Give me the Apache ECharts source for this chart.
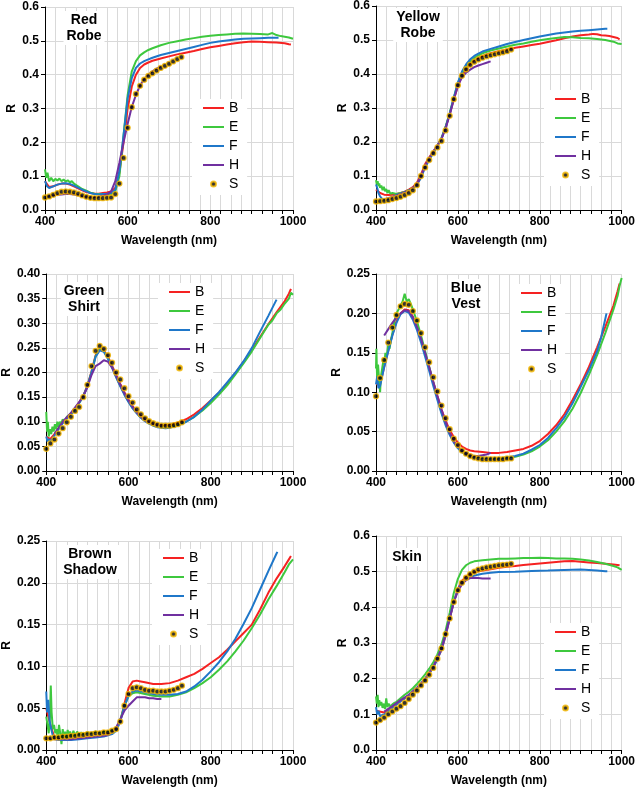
<!DOCTYPE html>
<html>
<head>
<meta charset="utf-8">
<script src="https://cdn.jsdelivr.net/npm/echarts@6/dist/echarts.min.js"></script>
<style>html,body{margin:0;padding:0;background:#fff;}#c{width:638px;height:788px;}</style>
</head>
<body>
<div id="c"></div>
<script>
// ---------- DATA ----------
const seriesNames = ['B', 'E', 'F', 'H', 'S'];
const xTickLabels = [400, 600, 800, 1000];

// Red Robe
const redRobeB = [[400,0.085],[410,0.068],[420,0.07],[430,0.075],[440,0.078],[450,0.078],[460,0.075],[470,0.07],[480,0.064],[490,0.058],[500,0.053],[510,0.05],[520,0.048],[530,0.048],[540,0.05],[550,0.052],[560,0.055],[570,0.065],[580,0.11],[590,0.2],[600,0.3],[610,0.365],[620,0.4],[630,0.42],[640,0.43],[650,0.436],[660,0.441],[680,0.448],[700,0.454],[720,0.46],[740,0.465],[760,0.47],[780,0.476],[800,0.481],[820,0.485],[840,0.489],[860,0.493],[880,0.496],[900,0.498],[920,0.497],[940,0.496],[960,0.495],[980,0.493],[990,0.49],[995,0.489]];
const redRobeE = [[400,0.12],[403,0.095],[406,0.11],[410,0.085],[415,0.095],[420,0.085],[425,0.092],[430,0.087],[435,0.093],[440,0.085],[445,0.09],[450,0.084],[455,0.088],[460,0.082],[465,0.085],[470,0.078],[480,0.07],[490,0.062],[500,0.057],[510,0.051],[520,0.048],[530,0.047],[540,0.047],[550,0.046],[560,0.047],[570,0.055],[580,0.1],[590,0.22],[600,0.34],[610,0.41],[620,0.44],[630,0.457],[640,0.466],[650,0.473],[660,0.478],[680,0.487],[700,0.494],[720,0.499],[740,0.504],[760,0.508],[780,0.512],[800,0.515],[820,0.517],[840,0.519],[860,0.521],[880,0.522],[900,0.521],[920,0.52],[940,0.519],[950,0.523],[960,0.517],[970,0.514],[980,0.512],[990,0.51],[1000,0.506]];
const redRobeF = [[400,0.085],[405,0.07],[410,0.065],[420,0.07],[430,0.075],[440,0.078],[450,0.079],[460,0.077],[470,0.072],[480,0.066],[490,0.06],[500,0.055],[510,0.05],[520,0.047],[530,0.046],[540,0.047],[550,0.048],[560,0.05],[570,0.06],[580,0.115],[590,0.22],[600,0.33],[610,0.39],[620,0.42],[630,0.433],[640,0.44],[650,0.445],[660,0.45],[680,0.458],[700,0.464],[720,0.47],[740,0.476],[760,0.482],[780,0.488],[800,0.494],[820,0.498],[840,0.501],[860,0.504],[880,0.506],[900,0.507],[920,0.508],[940,0.509],[960,0.509],[965,0.509]];
const redRobeH = [[400,0.04],[410,0.041],[420,0.043],[430,0.045],[440,0.046],[450,0.047],[460,0.047],[470,0.046],[480,0.044],[490,0.041],[500,0.039],[510,0.038],[520,0.038],[530,0.039],[540,0.042],[550,0.046],[560,0.055],[570,0.085],[580,0.14],[590,0.2],[600,0.255],[610,0.305],[620,0.34],[630,0.368],[640,0.387],[650,0.4],[660,0.41],[670,0.418],[680,0.424]];
const redRobeS = [[400,0.037],[410,0.04],[420,0.045],[430,0.05],[440,0.054],[450,0.055],[460,0.054],[470,0.052],[480,0.048],[490,0.043],[500,0.039],[510,0.036],[520,0.035],[530,0.035],[540,0.035],[550,0.036],[560,0.037],[570,0.047],[580,0.078],[590,0.154],[600,0.243],[610,0.304],[620,0.343],[630,0.367],[640,0.385],[650,0.396],[660,0.404],[670,0.412],[680,0.42],[690,0.426],[700,0.432],[710,0.439],[720,0.446],[730,0.452]];

// Yellow Robe
const yellowRobeB = [[400,0.06],[410,0.05],[420,0.045],[430,0.044],[440,0.045],[450,0.047],[460,0.05],[470,0.054],[480,0.06],[490,0.067],[500,0.08],[510,0.105],[520,0.135],[530,0.155],[540,0.172],[550,0.19],[560,0.21],[570,0.243],[580,0.282],[590,0.325],[600,0.365],[610,0.395],[620,0.415],[630,0.43],[640,0.44],[650,0.447],[660,0.453],[680,0.461],[700,0.467],[720,0.472],[740,0.477],[760,0.481],[780,0.485],[800,0.489],[820,0.494],[840,0.499],[860,0.505],[880,0.51],[900,0.514],[920,0.516],[930,0.518],[940,0.517],[950,0.514],[960,0.513],[970,0.512],[980,0.509],[990,0.506],[995,0.502]];
const yellowRobeE = [[400,0.088],[402,0.075],[404,0.085],[406,0.07],[408,0.078],[410,0.065],[413,0.072],[416,0.058],[419,0.068],[422,0.055],[425,0.062],[428,0.05],[431,0.058],[435,0.048],[440,0.05],[450,0.047],[460,0.05],[470,0.053],[480,0.058],[490,0.064],[500,0.076],[510,0.098],[520,0.128],[530,0.15],[540,0.17],[550,0.19],[560,0.212],[570,0.245],[580,0.285],[590,0.33],[600,0.373],[610,0.403],[620,0.423],[630,0.437],[640,0.447],[650,0.455],[660,0.461],[680,0.469],[700,0.475],[720,0.481],[740,0.486],[760,0.49],[780,0.495],[800,0.499],[820,0.503],[840,0.506],[860,0.509],[880,0.508],[900,0.506],[920,0.505],[940,0.503],[960,0.5],[980,0.495],[990,0.49],[1000,0.488]];
const yellowRobeF = [[400,0.075],[403,0.065],[406,0.05],[410,0.04],[415,0.033],[420,0.03],[430,0.032],[440,0.038],[450,0.044],[460,0.048],[470,0.052],[480,0.057],[490,0.063],[500,0.075],[510,0.095],[520,0.125],[530,0.148],[540,0.168],[550,0.188],[560,0.21],[570,0.243],[580,0.283],[590,0.33],[600,0.375],[610,0.407],[620,0.428],[630,0.443],[640,0.453],[650,0.46],[660,0.466],[680,0.474],[700,0.481],[720,0.488],[740,0.494],[760,0.5],[780,0.505],[800,0.51],[820,0.515],[840,0.519],[860,0.522],[880,0.525],[900,0.527],[920,0.529],[940,0.531],[960,0.533],[965,0.533]];
const yellowRobeH = [[420,0.032],[440,0.038],[460,0.047],[480,0.056],[500,0.075],[510,0.1],[520,0.13],[530,0.152],[540,0.172],[550,0.19],[560,0.21],[570,0.24],[580,0.28],[590,0.325],[600,0.365],[610,0.39],[620,0.404],[630,0.413],[640,0.42],[650,0.425],[660,0.429],[670,0.433],[680,0.437]];
const yellowRobeS = [[400,0.025],[410,0.026],[420,0.027],[430,0.029],[440,0.032],[450,0.035],[460,0.039],[470,0.044],[480,0.05],[490,0.058],[500,0.073],[510,0.1],[520,0.125],[530,0.147],[540,0.167],[550,0.184],[560,0.203],[570,0.234],[580,0.277],[590,0.326],[600,0.367],[610,0.395],[620,0.414],[630,0.427],[640,0.436],[650,0.443],[660,0.448],[670,0.452],[680,0.455],[690,0.458],[700,0.461],[710,0.464],[720,0.467],[730,0.472]];

// Green Shirt
const greenShirtB = [[400,0.07],[410,0.065],[420,0.075],[430,0.087],[440,0.098],[450,0.108],[460,0.117],[470,0.127],[480,0.139],[490,0.153],[500,0.173],[510,0.202],[520,0.235],[530,0.248],[540,0.245],[550,0.232],[560,0.214],[570,0.195],[580,0.177],[590,0.16],[600,0.145],[610,0.132],[620,0.121],[630,0.112],[640,0.105],[650,0.1],[660,0.096],[670,0.094],[680,0.093],[690,0.093],[700,0.094],[720,0.098],[740,0.105],[760,0.115],[780,0.128],[800,0.143],[820,0.159],[840,0.178],[860,0.199],[880,0.222],[900,0.246],[920,0.272],[940,0.298],[960,0.322],[980,0.345],[990,0.36],[995,0.37]];
const greenShirtE = [[400,0.12],[402,0.08],[404,0.1],[406,0.07],[409,0.085],[412,0.075],[415,0.09],[418,0.08],[421,0.095],[424,0.085],[427,0.1],[430,0.09],[433,0.1],[436,0.095],[440,0.105],[445,0.1],[450,0.11],[455,0.113],[460,0.117],[465,0.12],[470,0.125],[480,0.138],[490,0.152],[500,0.172],[510,0.2],[520,0.233],[530,0.247],[540,0.243],[550,0.229],[560,0.211],[570,0.191],[580,0.173],[590,0.156],[600,0.141],[610,0.128],[620,0.118],[630,0.109],[640,0.102],[650,0.097],[660,0.093],[670,0.09],[680,0.089],[690,0.088],[700,0.089],[720,0.093],[740,0.1],[760,0.11],[780,0.123],[800,0.138],[820,0.155],[840,0.174],[860,0.196],[880,0.219],[900,0.243],[920,0.27],[940,0.297],[950,0.306],[960,0.32],[970,0.328],[980,0.34],[990,0.35],[995,0.362],[1000,0.358]];
const greenShirtF = [[400,0.07],[403,0.06],[406,0.065],[410,0.06],[420,0.072],[430,0.085],[440,0.097],[450,0.107],[460,0.115],[470,0.125],[480,0.138],[490,0.152],[500,0.172],[510,0.2],[520,0.232],[530,0.245],[540,0.242],[550,0.228],[560,0.21],[570,0.19],[580,0.172],[590,0.155],[600,0.14],[610,0.127],[620,0.117],[630,0.108],[640,0.101],[650,0.096],[660,0.092],[670,0.089],[680,0.088],[690,0.087],[700,0.088],[720,0.092],[740,0.1],[760,0.11],[780,0.125],[800,0.143],[820,0.16],[840,0.18],[860,0.2],[880,0.223],[900,0.25],[920,0.283],[940,0.315],[960,0.348]];
const greenShirtH = [[420,0.075],[440,0.1],[460,0.118],[480,0.14],[490,0.152],[500,0.17],[510,0.195],[520,0.213],[530,0.218],[540,0.225],[550,0.222],[560,0.21],[570,0.193],[580,0.175],[590,0.158],[600,0.143],[610,0.13],[620,0.119],[630,0.11],[640,0.103],[650,0.098],[660,0.095],[670,0.093],[680,0.092]];
const greenShirtS = [[400,0.045],[410,0.056],[420,0.064],[430,0.076],[440,0.087],[450,0.099],[460,0.11],[470,0.122],[480,0.13],[490,0.15],[500,0.175],[510,0.213],[520,0.244],[530,0.254],[540,0.248],[550,0.235],[560,0.22],[570,0.2],[580,0.186],[590,0.168],[600,0.152],[610,0.139],[620,0.125],[630,0.115],[640,0.107],[650,0.101],[660,0.097],[670,0.094],[680,0.092],[690,0.092],[700,0.092],[710,0.093],[720,0.095],[730,0.099]];

// Blue Vest
const blueVestB = [[400,0.11],[410,0.11],[420,0.132],[430,0.153],[440,0.173],[450,0.19],[460,0.2],[470,0.205],[480,0.204],[490,0.196],[500,0.183],[510,0.167],[520,0.149],[530,0.131],[540,0.113],[550,0.095],[560,0.078],[570,0.064],[580,0.052],[590,0.043],[600,0.036],[610,0.031],[620,0.028],[630,0.026],[640,0.025],[660,0.024],[680,0.023],[700,0.023],[720,0.024],[740,0.026],[760,0.028],[780,0.032],[800,0.038],[820,0.047],[840,0.058],[860,0.072],[880,0.09],[900,0.11],[920,0.132],[940,0.157],[960,0.183],[980,0.21],[990,0.228],[995,0.238]];
const blueVestE = [[400,0.13],[401,0.155],[403,0.11],[405,0.135],[407,0.12],[410,0.1],[412,0.12],[415,0.13],[418,0.14],[420,0.135],[423,0.15],[426,0.145],[430,0.16],[433,0.155],[436,0.165],[440,0.175],[445,0.19],[450,0.2],[455,0.205],[460,0.21],[465,0.215],[470,0.225],[475,0.215],[480,0.218],[485,0.212],[490,0.205],[500,0.19],[510,0.172],[520,0.152],[530,0.132],[540,0.112],[550,0.093],[560,0.075],[570,0.06],[580,0.047],[590,0.037],[600,0.029],[610,0.024],[620,0.021],[640,0.018],[660,0.017],[680,0.016],[700,0.016],[720,0.017],[740,0.018],[760,0.021],[780,0.025],[800,0.031],[820,0.039],[840,0.05],[860,0.063],[880,0.079],[900,0.099],[920,0.122],[940,0.147],[960,0.175],[980,0.205],[990,0.222],[995,0.235],[1000,0.245]];
const blueVestF = [[400,0.11],[403,0.12],[406,0.105],[410,0.108],[415,0.12],[420,0.132],[430,0.152],[440,0.172],[450,0.188],[460,0.199],[470,0.203],[480,0.201],[490,0.192],[500,0.179],[510,0.163],[520,0.145],[530,0.127],[540,0.108],[550,0.09],[560,0.073],[570,0.058],[580,0.046],[590,0.036],[600,0.029],[610,0.024],[620,0.021],[630,0.019],[640,0.018],[660,0.017],[680,0.016],[700,0.016],[720,0.017],[740,0.019],[760,0.022],[780,0.027],[800,0.033],[820,0.042],[840,0.054],[860,0.068],[880,0.086],[900,0.107],[920,0.128],[940,0.152],[950,0.17],[960,0.193],[963,0.2]];
const blueVestH = [[420,0.172],[430,0.18],[440,0.188],[450,0.195],[460,0.2],[470,0.204],[480,0.203],[490,0.195],[500,0.183],[510,0.168],[520,0.15],[530,0.132],[540,0.113],[550,0.095],[560,0.078],[570,0.062],[580,0.049],[590,0.038],[600,0.031],[610,0.026],[620,0.022],[630,0.02],[640,0.019],[650,0.019],[660,0.02],[670,0.021],[680,0.023]];
const blueVestS = [[400,0.095],[410,0.118],[420,0.141],[430,0.163],[440,0.182],[450,0.198],[460,0.209],[470,0.212],[480,0.211],[490,0.203],[500,0.191],[510,0.175],[520,0.157],[530,0.138],[540,0.119],[550,0.101],[560,0.083],[570,0.067],[580,0.053],[590,0.041],[600,0.033],[610,0.026],[620,0.022],[630,0.019],[640,0.017],[650,0.016],[660,0.015],[670,0.015],[680,0.015],[690,0.015],[700,0.015],[710,0.015],[720,0.016],[730,0.016]];

// Brown Shadow
const brownShadowB = [[400,0.05],[410,0.03],[420,0.015],[440,0.013],[460,0.013],[480,0.014],[500,0.015],[520,0.016],[540,0.018],[560,0.022],[570,0.025],[580,0.034],[590,0.055],[600,0.074],[610,0.082],[620,0.083],[630,0.082],[640,0.081],[660,0.079],[680,0.079],[700,0.08],[720,0.083],[740,0.087],[760,0.091],[780,0.097],[800,0.104],[820,0.111],[840,0.12],[860,0.13],[880,0.14],[900,0.15],[920,0.168],[940,0.188],[960,0.205],[980,0.22],[990,0.228],[995,0.232]];
const brownShadowE = [[400,0.04],[403,0.03],[406,0.02],[409,0.04],[411,0.077],[413,0.045],[416,0.025],[419,0.03],[422,0.02],[425,0.025],[428,0.015],[431,0.03],[434,0.02],[437,0.007],[440,0.025],[443,0.015],[446,0.022],[449,0.012],[452,0.024],[455,0.018],[458,0.022],[462,0.015],[466,0.023],[470,0.017],[475,0.022],[480,0.018],[485,0.021],[490,0.019],[500,0.021],[510,0.02],[520,0.022],[530,0.021],[540,0.022],[550,0.022],[560,0.023],[570,0.026],[580,0.036],[590,0.053],[600,0.064],[610,0.068],[620,0.069],[640,0.067],[660,0.065],[680,0.064],[700,0.064],[720,0.066],[740,0.069],[760,0.074],[780,0.08],[800,0.087],[820,0.096],[840,0.106],[860,0.118],[880,0.131],[900,0.146],[920,0.162],[940,0.18],[960,0.196],[980,0.213],[990,0.222],[1000,0.228]];
const brownShadowF = [[400,0.07],[402,0.045],[405,0.06],[408,0.035],[412,0.025],[416,0.017],[420,0.013],[430,0.012],[440,0.012],[460,0.012],[480,0.013],[500,0.014],[520,0.015],[540,0.016],[560,0.019],[570,0.023],[580,0.034],[590,0.052],[600,0.065],[610,0.07],[620,0.071],[640,0.069],[660,0.067],[680,0.066],[700,0.066],[720,0.067],[740,0.07],[760,0.076],[780,0.084],[800,0.094],[820,0.105],[840,0.118],[860,0.133],[880,0.151],[900,0.17],[920,0.192],[940,0.214],[960,0.235],[962,0.237]];
const brownShadowH = [[400,0.014],[420,0.013],[440,0.013],[460,0.013],[480,0.014],[500,0.015],[520,0.016],[540,0.017],[550,0.018],[560,0.021],[570,0.027],[580,0.037],[590,0.047],[600,0.053],[610,0.058],[620,0.063],[630,0.063],[640,0.063],[650,0.062],[660,0.062],[670,0.061],[680,0.061]];
const brownShadowS = [[400,0.014],[410,0.014],[420,0.015],[430,0.015],[440,0.016],[450,0.016],[460,0.017],[470,0.017],[480,0.018],[490,0.018],[500,0.019],[510,0.019],[520,0.02],[530,0.02],[540,0.021],[550,0.021],[560,0.023],[570,0.025],[580,0.034],[590,0.053],[600,0.067],[610,0.074],[620,0.075],[630,0.074],[640,0.072],[650,0.071],[660,0.071],[670,0.07],[680,0.07],[690,0.07],[700,0.071],[710,0.072],[720,0.074],[730,0.077]];

// Skin
const skinB = [[400,0.11],[420,0.105],[440,0.12],[460,0.137],[480,0.152],[500,0.172],[520,0.198],[540,0.232],[560,0.28],[570,0.32],[580,0.367],[590,0.415],[600,0.452],[610,0.474],[620,0.487],[630,0.494],[640,0.498],[660,0.503],[680,0.507],[700,0.511],[720,0.514],[740,0.516],[760,0.519],[780,0.521],[800,0.523],[820,0.525],[840,0.527],[860,0.529],[880,0.53],[900,0.528],[920,0.526],[940,0.524],[960,0.522],[980,0.52],[995,0.518]];
const skinE = [[400,0.15],[402,0.13],[404,0.155],[406,0.12],[408,0.14],[410,0.125],[413,0.135],[416,0.118],[419,0.13],[422,0.115],[425,0.145],[428,0.12],[431,0.13],[435,0.122],[440,0.128],[445,0.132],[450,0.135],[460,0.145],[470,0.155],[480,0.163],[490,0.173],[500,0.185],[510,0.198],[520,0.212],[530,0.228],[540,0.246],[550,0.268],[560,0.296],[570,0.335],[580,0.385],[590,0.44],[600,0.48],[610,0.505],[620,0.518],[630,0.525],[640,0.529],[660,0.532],[680,0.534],[700,0.536],[720,0.536],[740,0.537],[760,0.538],[780,0.538],[800,0.539],[820,0.538],[840,0.537],[860,0.537],[880,0.536],[900,0.534],[920,0.531],[940,0.527],[960,0.522],[980,0.516],[990,0.512],[1000,0.505]];
const skinF = [[400,0.12],[403,0.1],[406,0.11],[410,0.095],[415,0.098],[420,0.1],[430,0.108],[440,0.118],[460,0.137],[480,0.153],[500,0.172],[520,0.197],[540,0.232],[550,0.255],[560,0.282],[570,0.322],[580,0.37],[590,0.415],[600,0.45],[610,0.468],[620,0.478],[630,0.485],[640,0.489],[660,0.494],[680,0.497],[700,0.499],[740,0.5],[780,0.502],[820,0.503],[860,0.505],[900,0.506],[920,0.505],[940,0.503],[960,0.501],[965,0.501]];
const skinH = [[420,0.108],[440,0.123],[460,0.14],[480,0.155],[500,0.175],[520,0.2],[540,0.235],[550,0.258],[560,0.285],[570,0.325],[580,0.37],[590,0.415],[600,0.445],[610,0.465],[620,0.476],[630,0.482],[640,0.483],[650,0.482],[660,0.481],[670,0.481],[680,0.481]];
const skinS = [[400,0.077],[410,0.084],[420,0.091],[430,0.1],[440,0.108],[450,0.116],[460,0.123],[470,0.132],[480,0.143],[490,0.155],[500,0.167],[510,0.181],[520,0.195],[530,0.211],[540,0.23],[550,0.256],[560,0.285],[570,0.325],[580,0.369],[590,0.415],[600,0.448],[610,0.469],[620,0.483],[630,0.493],[640,0.5],[650,0.506],[660,0.509],[670,0.512],[680,0.514],[690,0.516],[700,0.518],[710,0.519],[720,0.52],[730,0.522]];

// ---------- LAYOUT ----------
const panels = [
  { title: 'Red\nRobe', tx: 84, ty: 11, grid: {left: 45, top: 7, width: 248, height: 203}, ymax: 0.6, yint: 0.1, dec: 1, leg: [192, 99], data: [redRobeB, redRobeE, redRobeF, redRobeH, redRobeS] },
  { title: 'Yellow\nRobe', tx: 418, ty: 8, grid: {left: 376, top: 6, width: 248, height: 204}, ymax: 0.6, yint: 0.1, dec: 1, leg: [544, 90], data: [yellowRobeB, yellowRobeE, yellowRobeF, yellowRobeH, yellowRobeS] },
  { title: 'Green\nShirt', tx: 84, ty: 282, grid: {left: 46, top: 274, width: 247, height: 197}, ymax: 0.4, yint: 0.05, dec: 2, leg: [158, 283], data: [greenShirtB, greenShirtE, greenShirtF, greenShirtH, greenShirtS] },
  { title: 'Blue\nVest', tx: 466, ty: 279, grid: {left: 376, top: 274, width: 248, height: 197}, ymax: 0.25, yint: 0.05, dec: 2, leg: [510, 284], data: [blueVestB, blueVestE, blueVestF, blueVestH, blueVestS] },
  { title: 'Brown\nShadow', tx: 90, ty: 545, grid: {left: 46, top: 541, width: 247, height: 209}, ymax: 0.25, yint: 0.05, dec: 2, leg: [152, 549], data: [brownShadowB, brownShadowE, brownShadowF, brownShadowH, brownShadowS] },
  { title: 'Skin', tx: 407, ty: 548, grid: {left: 376, top: 536, width: 248, height: 214}, ymax: 0.6, yint: 0.1, dec: 1, leg: [544, 623], data: [skinB, skinE, skinF, skinH, skinS] }
];

const colors = ['#f52222', '#3ec83e', '#1f77c9', '#7030a0', '#000000'];
const FONT = 'Arial, "Liberation Sans", sans-serif';

const legendData = seriesNames.map(n => n === 'S'
  ? {name: n}
  : {name: n, itemStyle: {opacity: 0, borderWidth: 0}});

const grids = [], xAxes = [], yAxes = [], series = [], legends = [], graphics = [];
panels.forEach((p, i) => {
  grids.push(Object.assign({containLabel: false}, p.grid));
  xAxes.push({
    type: 'value', gridIndex: i, min: 400, max: 1000, interval: 25,
    name: 'Wavelength (nm)', nameLocation: 'middle', nameGap: 25,
    nameTextStyle: {fontFamily: FONT, fontWeight: 'bold', fontSize: 12, color: '#000'},
    axisLine: {show: true, onZero: false, lineStyle: {color: '#000', width: 1}},
    axisTick: {show: true, length: 4, lineStyle: {color: '#000'}},
    axisLabel: {fontFamily: FONT, fontWeight: 'bold', fontSize: 12, color: '#000', margin: 6,
      formatter: v => (xTickLabels.indexOf(Math.round(v)) >= 0 ? String(Math.round(v)) : '')},
    splitLine: {show: true, lineStyle: {color: '#d9d9d9', width: 1}}
  });
  yAxes.push({
    type: 'value', gridIndex: i, min: 0, max: p.ymax, interval: p.yint,
    name: 'R', nameLocation: 'middle', nameGap: 27,
    nameTextStyle: {fontFamily: FONT, fontWeight: 'bold', fontSize: 12, color: '#000'},
    axisLine: {show: true, lineStyle: {color: '#000', width: 1}},
    axisTick: {show: true, length: 4, lineStyle: {color: '#000'}},
    axisLabel: {fontFamily: FONT, fontWeight: 'bold', fontSize: 12, color: '#000', margin: 6,
      formatter: v => v.toFixed(p.dec)},
    splitLine: {show: true, lineStyle: {color: '#d9d9d9', width: 1}}
  });
  seriesNames.forEach((nm, k) => {
    if (nm === 'S') {
      series.push({
        name: nm, type: 'scatter', xAxisIndex: i, yAxisIndex: i, data: p.data[k],
        symbol: 'circle', symbolSize: 5, z: 5,
        itemStyle: {color: '#000', borderColor: '#f5b800', borderWidth: 1.3}
      });
    } else {
      series.push({
        name: nm, type: 'line', xAxisIndex: i, yAxisIndex: i, data: p.data[k],
        symbol: 'none', showSymbol: false, z: 2 + k * 0.1,
        lineStyle: {color: colors[k], width: 2}, itemStyle: {color: colors[k]}
      });
    }
  });
  legends.push({
    orient: 'vertical', left: p.leg[0], top: p.leg[1], data: legendData,
    itemWidth: 21, itemHeight: 5, itemGap: 5, padding: [2, 8, 4, 10],
    backgroundColor: '#ffffff', selectedMode: false,
    textStyle: {fontFamily: FONT, fontSize: 14, color: '#000', lineHeight: 14}
  });
  graphics.push({
    type: 'text', x: p.tx, y: p.ty, z: 10,
    style: {text: p.title, font: 'bold 14px ' + FONT, fill: '#000', align: 'center', textAlign: 'center',
      verticalAlign: 'top', textVerticalAlign: 'top', lineHeight: 16, backgroundColor: '#fff', padding: [1, 3]}
  });
});

const chart = echarts.init(document.getElementById('c'), null, {renderer: 'canvas'});
chart.setOption({
  animation: false,
  backgroundColor: '#fff',
  grid: grids, xAxis: xAxes, yAxis: yAxes, series: series, legend: legends, graphic: graphics
});
</script>
</body>
</html>
